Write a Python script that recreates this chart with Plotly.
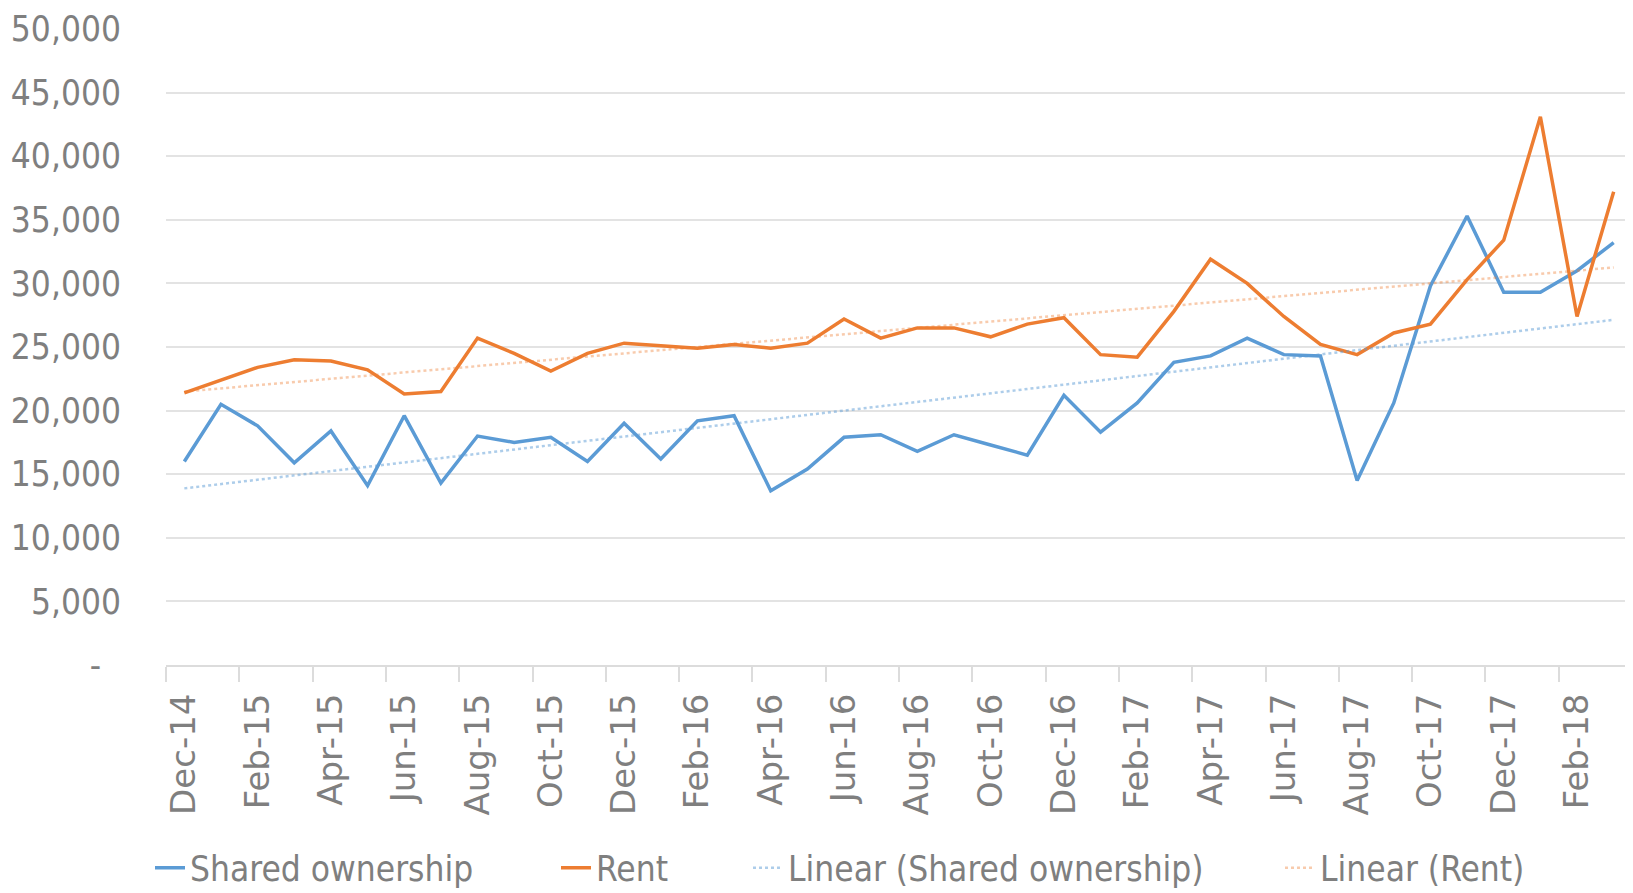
import numpy as np
import plotly.graph_objects as go

months = [
    "Dec-14",
    "Jan-15", "Feb-15", "Mar-15", "Apr-15", "May-15", "Jun-15",
    "Jul-15", "Aug-15", "Sep-15", "Oct-15", "Nov-15", "Dec-15",
    "Jan-16", "Feb-16", "Mar-16", "Apr-16", "May-16", "Jun-16",
    "Jul-16", "Aug-16", "Sep-16", "Oct-16", "Nov-16", "Dec-16",
    "Jan-17", "Feb-17", "Mar-17", "Apr-17", "May-17", "Jun-17",
    "Jul-17", "Aug-17", "Sep-17", "Oct-17", "Nov-17", "Dec-17",
    "Jan-18", "Feb-18", "Mar-18",
]

shared_ownership = [
    16000, 20500, 18800, 15900, 18400, 14100, 19600, 14300, 18000, 17500,
    17900, 16000, 19000, 16200, 19200, 19600, 13700, 15400, 17900, 18100,
    16800, 18100, 17300, 16500, 21200, 18300, 20600, 23800, 24300, 25700,
    24400, 24300, 14500, 20600, 29800, 35300, 29300, 29300, 31000, 33200,
]

rent = [
    21400, 22400, 23400, 24000, 23900, 23200, 21300, 21500, 25700, 24500,
    23100, 24500, 25300, 25100, 24900, 25200, 24900, 25300, 27200, 25700,
    26500, 26500, 25800, 26800, 27300, 24400, 24200, 27800, 31900, 30000,
    27400, 25200, 24400, 26100, 26800, 30300, 33400, 43100, 27400, 37200,
]

y_ticks = [0, 5000, 10000, 15000, 20000, 25000, 30000, 35000, 40000, 45000, 50000]
y_tick_text = ["-\u00a0\u00a0", "5,000", "10,000", "15,000", "20,000", "25,000",
               "30,000", "35,000", "40,000", "45,000", "50,000"]

BLUE = "#5b9bd5"
ORANGE = "#ed7d31"
TEXT = "#7f7f7f"
GRID = "#e3e3e3"
COND = "DejaVu Sans Condensed, DejaVu Sans, sans-serif"

idx = np.arange(len(months))
so_fit = np.polyval(np.polyfit(idx, shared_ownership, 1), idx)
rent_fit = np.polyval(np.polyfit(idx, rent, 1), idx)

# figure sits inside the page body (8px default margin)
W, H = 1625, 885
L, R, T, B = 158, 1, 21, 228
plot_w = W - L - R
plot_h = H - T - B

def lx(text_start_page):
    return (text_start_page - 8 - 40 - L) / plot_w

leg_y = (T + plot_h - (868 - 8)) / plot_h

fig = go.Figure()
fig.add_trace(go.Scatter(x=months, y=shared_ownership, mode="lines",
                         name="Shared ownership", legend="legend",
                         line=dict(color=BLUE, width=3.5)))
fig.add_trace(go.Scatter(x=months, y=rent, mode="lines", name="Rent",
                         legend="legend2",
                         line=dict(color=ORANGE, width=3.5)))
fig.add_trace(go.Scatter(x=months, y=so_fit, mode="lines",
                         name="Linear (Shared ownership)", legend="legend3",
                         line=dict(color="rgba(91,155,213,0.5)", width=2.5,
                                   dash="3px,3px")))
fig.add_trace(go.Scatter(x=months, y=rent_fit, mode="lines",
                         name="Linear (Rent)", legend="legend4",
                         line=dict(color="rgba(237,125,49,0.4)", width=2.5,
                                   dash="3px,3px")))

def leg(xpos):
    return dict(
        orientation="h", x=xpos, xanchor="left", y=leg_y, yanchor="middle",
        font=dict(family=COND, size=35, color=TEXT),
        bgcolor="rgba(0,0,0,0)", itemwidth=30,
    )

fig.update_layout(
    width=W, height=H,
    margin=dict(l=L, r=R, t=T, b=B, autoexpand=False),
    paper_bgcolor="white", plot_bgcolor="white",
    showlegend=True,
    legend=leg(lx(190)),
    legend2=leg(lx(596)),
    legend3=leg(lx(788)),
    legend4=leg(lx(1320)),
    font=dict(family=COND, color=TEXT),
)

fig.update_xaxes(
    type="category",
    tickmode="linear", tick0=0, dtick=2,
    tickson="boundaries",
    ticks="outside", ticklen=15, tickwidth=2, tickcolor="#dcdcdc",
    showline=True, linecolor="#dcdcdc", linewidth=2,
    showgrid=False,
    tickangle=-90,
    tickfont=dict(family="DejaVu Sans", size=34, color=TEXT),
    ticklabelstandoff=13,
    range=[-0.5, len(months) - 0.5],
)

fig.update_yaxes(
    range=[0, 50000],
    tickmode="array", tickvals=y_ticks, ticktext=y_tick_text,
    showgrid=True, gridcolor=GRID, gridwidth=2,
    zeroline=False, showline=False, ticks="",
    tickfont=dict(family=COND, size=35, color=TEXT),
    ticklabelstandoff=44,
)

fig.write_html("out.html")
